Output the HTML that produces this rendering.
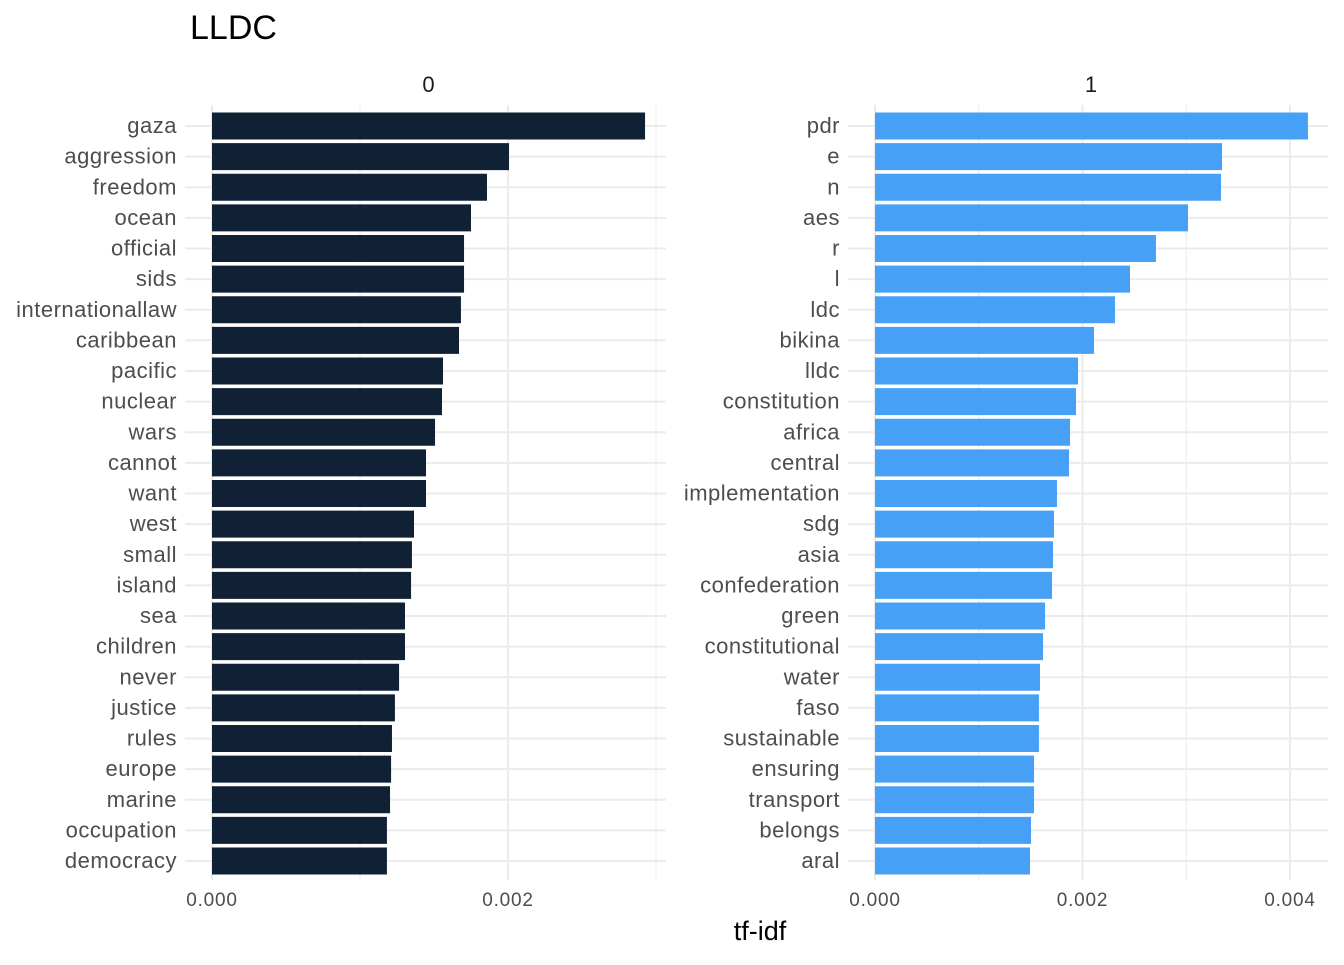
<!DOCTYPE html>
<html><head><meta charset="utf-8"><style>
body{margin:0;background:#fff;font-family:"Liberation Sans",Arial,sans-serif}
svg text{font-family:"Liberation Sans",Arial,sans-serif}
</style></head><body>
<svg id="chart" width="1344" height="960">
<text x="190" y="39" font-size="34" fill="#000">LLDC</text>
<text x="760" y="940" font-size="27" text-anchor="middle" fill="#000">tf-idf</text>
</svg>
<script>
const terms0 = ["gaza","aggression","freedom","ocean","official","sids","internationallaw","caribbean","pacific","nuclear","wars","cannot","want","west","small","island","sea","children","never","justice","rules","europe","marine","occupation","democracy"];
const values0 = [0.002926,0.002007,0.001858,0.00175,0.001703,0.001703,0.001682,0.001669,0.001561,0.001554,0.001507,0.001446,0.001446,0.001365,0.001351,0.001345,0.001304,0.001304,0.001264,0.001236,0.001216,0.00121,0.001203,0.001182,0.001182];
const terms1 = ["pdr","e","n","aes","r","l","ldc","bikina","lldc","constitution","africa","central","implementation","sdg","asia","confederation","green","constitutional","water","faso","sustainable","ensuring","transport","belongs","aral"];
const values1 = [0.004173,0.003345,0.003335,0.003017,0.002708,0.002458,0.002313,0.002111,0.001957,0.001937,0.00188,0.00187,0.001754,0.001725,0.001716,0.001706,0.001639,0.00162,0.00159,0.00158,0.00158,0.001533,0.001533,0.001504,0.001494];
const ticks0 = [0, 0.002];
const tickLabels0 = ["0.000","0.002"];
const ticks1 = [0, 0.002, 0.004];
const tickLabels1 = ["0.000","0.002","0.004"];
const minor0 = [0.001, 0.003];
const minor1 = [0.001, 0.003];
const panelNames = ["0","1"];

const svg = document.getElementById('chart');
const NS = 'http://www.w3.org/2000/svg';
function mk(tag, attrs){const e=document.createElementNS(NS,tag);for(const k in attrs)e.setAttribute(k,attrs[k]);svg.appendChild(e);return e;}
const y0 = 126, step = 30.625, bh = 27;
function yScale(i){return y0 + i*step;}

function panel(p, terms, values, ticks, labels, minor, x0, kpx, left, right, color){
  const xs = v => x0 + v*kpx;
  const top = 105, bot = 880;
  minor.forEach(v=>{
    const l = mk('line',{x1:xs(v),x2:xs(v),y1:top,y2:bot,stroke:'#ebebeb','stroke-width':1});
    
    
  });
  ticks.forEach((v,i)=>{
    const l = mk('line',{x1:xs(v),x2:xs(v),y1:top,y2:bot,stroke:'#ebebeb','stroke-width':2});
    
    
    const t = mk('text',{x:xs(v),y:906,'font-size':19,'letter-spacing':0.8,'text-anchor':'middle',fill:'#4d4d4d'});
    t.textContent = labels[i];
    
    
  });
  terms.forEach((term,i)=>{
    const y = yScale(i);
    const g = mk('line',{x1:left,x2:right,y1:y,y2:y,stroke:'#ebebeb','stroke-width':2});
    
    
    const r = mk('rect',{x:xs(0),y:y-bh/2,width:xs(values[i])-xs(0),height:bh,fill:color});
    
    
    const t = mk('text',{x:left-8,y:y+7,'font-size':22,'letter-spacing':0.5,'text-anchor':'end',fill:'#4d4d4d'});
    t.textContent = term;
    
    
  });
  const s = mk('text',{x:(left+right)/2+3,y:92,'font-size':22,'text-anchor':'middle',fill:'#1a1a1a'});
  s.textContent = panelNames[p];
  
  
}
panel(0, terms0, values0, ticks0, tickLabels0, minor0, 212, 148000, 185, 666, '#102035');
panel(1, terms1, values1, ticks1, tickLabels1, minor1, 875, 103750, 848, 1328, '#46a0f5');
</script>
</body></html>
